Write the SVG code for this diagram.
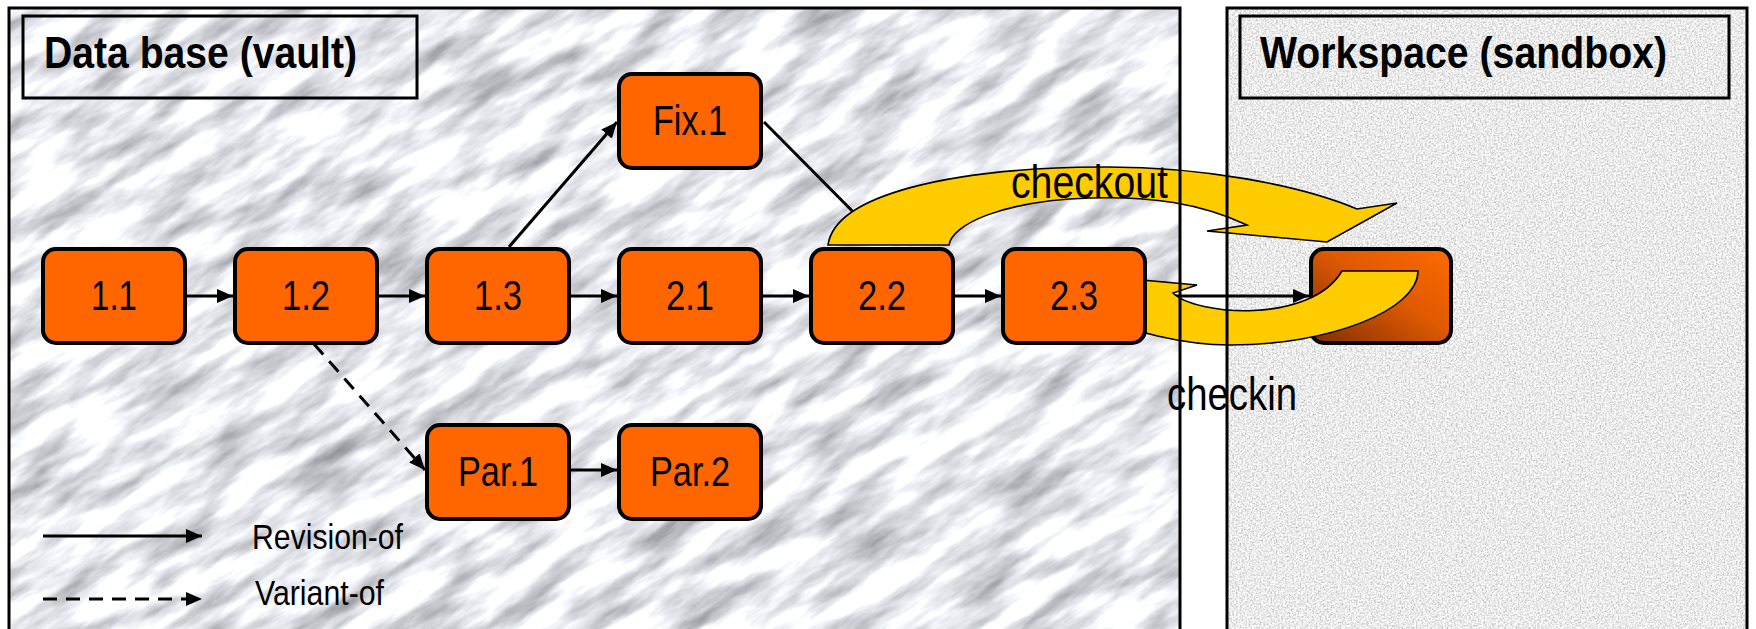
<svg xmlns="http://www.w3.org/2000/svg" width="1756" height="629" viewBox="0 0 1756 629">
<style>
.node rect{fill:#FF6600;stroke:#000;stroke-width:4}
.lbl{font-family:"Liberation Sans Narrow","Liberation Sans",Arial,sans-serif;font-size:42px;text-anchor:middle;fill:#000}
.txt{font-family:"Liberation Sans Narrow","Liberation Sans",Arial,sans-serif;fill:#000}
.ttl{font-family:"Liberation Sans Narrow","Liberation Sans",Arial,sans-serif;font-weight:bold;font-size:44px;fill:#000}
.conn{stroke:#000;stroke-width:3;fill:none}
.dash{stroke-dasharray:14 9}
.band{fill:#FFCC00;stroke:#000;stroke-width:1.6;stroke-linejoin:miter}
.frame{fill:none;stroke:#000;stroke-width:3}
</style>
<defs>
<marker id="ah" markerUnits="userSpaceOnUse" markerWidth="17" markerHeight="14" refX="16" refY="7" orient="auto">
<path d="M0,0 L16,7 L0,14 z" fill="#000"/>
</marker>
<filter id="marble" x="0" y="0" width="1" height="1" color-interpolation-filters="sRGB">
<feTurbulence type="fractalNoise" baseFrequency="0.012 0.045" numOctaves="5" seed="7"/>
<feColorMatrix type="matrix" values="-0.8 0 0 0 1.31  -0.8 0 0 0 1.315  -0.8 0 0 0 1.335  0 0 0 0 1"/>
</filter>
<filter id="granite" x="0" y="0" width="1" height="1" color-interpolation-filters="sRGB">
<feTurbulence type="fractalNoise" baseFrequency="0.55" numOctaves="2" seed="4"/>
<feColorMatrix type="matrix" values="-0.5 0 0 0 1.17  -0.5 0 0 0 1.17  -0.5 0 0 0 1.17  0 0 0 0 1"/>
</filter>
<clipPath id="cv"><rect x="9" y="8" width="1171" height="640"/></clipPath>
<clipPath id="cw"><rect x="1227" y="8" width="520" height="640"/></clipPath>
<linearGradient id="wsg" x1="1" y1="0" x2="0" y2="1">
<stop offset="0" stop-color="#FF6A00"/>
<stop offset="0.45" stop-color="#E05A00"/>
<stop offset="1" stop-color="#7E2E00"/>
</linearGradient>
</defs>

<rect x="0" y="0" width="1756" height="629" fill="#fff"/>

<g id="vault-bg" clip-path="url(#cv)">
<rect x="-500" y="-700" width="2200" height="1900" filter="url(#marble)" transform="rotate(-32 590 320)"/>
</g>
<g id="workspace-bg" clip-path="url(#cw)">
<rect x="1227" y="8" width="520" height="640" filter="url(#granite)"/>
</g>

<g id="n-ws" class="node">
<rect x="1311" y="249" width="140" height="94" rx="13" style="fill:url(#wsg)"/>
</g>

<g id="connectors">
<line class="conn" x1="185" y1="296" x2="233" y2="296" marker-end="url(#ah)"/>
<line class="conn" x1="377" y1="296" x2="425" y2="296" marker-end="url(#ah)"/>
<line class="conn" x1="569" y1="296" x2="617" y2="296" marker-end="url(#ah)"/>
<line class="conn" x1="761" y1="296" x2="809" y2="296" marker-end="url(#ah)"/>
<line class="conn" x1="953" y1="296" x2="1001" y2="296" marker-end="url(#ah)"/>
<line class="conn" x1="1145" y1="296" x2="1309" y2="296" marker-end="url(#ah)"/>
<line class="conn" x1="509" y1="247" x2="617" y2="122" marker-end="url(#ah)"/>
<line class="conn" x1="764" y1="122" x2="884" y2="243" marker-end="url(#ah)"/>
<line class="conn dash" x1="314" y1="344" x2="425" y2="470" marker-end="url(#ah)"/>
<line class="conn" x1="569" y1="470" x2="617" y2="470" marker-end="url(#ah)"/>
<line class="conn" x1="43" y1="536" x2="202" y2="536" marker-end="url(#ah)"/>
<line class="conn dash" x1="43" y1="599" x2="202" y2="599" marker-end="url(#ah)"/>
</g>

<g id="checkout-arrow">
<path class="band" d="M828,245 C835,195 950,168 1100,167 C1200,166 1300,185 1357,209 L1397,203 L1327,242 L1207,231 L1247,225 C1200,203 1150,196 1090,198 C1000,201 952,225 949,245 Z"/>
</g>
<g id="checkin-arrow">
<path class="band" d="M1342,271 L1418,271 C1418,310 1330,345 1230,345 C1180,345 1130,330 1100,318 L1085,324 L1075,274 L1197,285 L1173,293 C1195,315 1310,325 1342,271 Z"/>
</g>

<g id="n-1-1" class="node"><rect x="43" y="249" width="142" height="94" rx="13"/><text class="lbl" x="114" y="310" textLength="46" lengthAdjust="spacingAndGlyphs">1.1</text></g>
<g id="n-1-2" class="node"><rect x="235" y="249" width="142" height="94" rx="13"/><text class="lbl" x="306" y="310" textLength="48" lengthAdjust="spacingAndGlyphs">1.2</text></g>
<g id="n-1-3" class="node"><rect x="427" y="249" width="142" height="94" rx="13"/><text class="lbl" x="498" y="310" textLength="48" lengthAdjust="spacingAndGlyphs">1.3</text></g>
<g id="n-2-1" class="node"><rect x="619" y="249" width="142" height="94" rx="13"/><text class="lbl" x="690" y="310" textLength="48" lengthAdjust="spacingAndGlyphs">2.1</text></g>
<g id="n-2-2" class="node"><rect x="811" y="249" width="142" height="94" rx="13"/><text class="lbl" x="882" y="310" textLength="48" lengthAdjust="spacingAndGlyphs">2.2</text></g>
<g id="n-2-3" class="node"><rect x="1003" y="249" width="142" height="94" rx="13"/><text class="lbl" x="1074" y="310" textLength="48" lengthAdjust="spacingAndGlyphs">2.3</text></g>
<g id="n-fix-1" class="node"><rect x="619" y="74" width="142" height="94" rx="13"/><text class="lbl" x="690" y="135" textLength="74" lengthAdjust="spacingAndGlyphs">Fix.1</text></g>
<g id="n-par-1" class="node"><rect x="427" y="425" width="142" height="94" rx="13"/><text class="lbl" x="498" y="486" textLength="80" lengthAdjust="spacingAndGlyphs">Par.1</text></g>
<g id="n-par-2" class="node"><rect x="619" y="425" width="142" height="94" rx="13"/><text class="lbl" x="690" y="486" textLength="80" lengthAdjust="spacingAndGlyphs">Par.2</text></g>

<g id="frames">
<rect class="frame" x="9" y="8" width="1171" height="640"/>
<rect class="frame" x="1227" y="8" width="520" height="640"/>
<rect class="frame" x="23" y="16" width="394" height="82"/>
<rect class="frame" x="1240" y="16" width="489" height="82"/>
</g>

<g id="texts">
<text class="ttl" x="44" y="68" textLength="313" lengthAdjust="spacingAndGlyphs">Data base (vault)</text>
<text class="ttl" x="1260" y="68" textLength="407" lengthAdjust="spacingAndGlyphs">Workspace (sandbox)</text>
<text class="txt" x="1011" y="198" font-size="46" textLength="157" lengthAdjust="spacingAndGlyphs">checkout</text>
<text class="txt" x="1167" y="410" font-size="46" textLength="130" lengthAdjust="spacingAndGlyphs">checkin</text>
<text class="txt" x="252" y="549" font-size="35" textLength="151" lengthAdjust="spacingAndGlyphs">Revision-of</text>
<text class="txt" x="255" y="605" font-size="35" textLength="129" lengthAdjust="spacingAndGlyphs">Variant-of</text>
</g>
</svg>
